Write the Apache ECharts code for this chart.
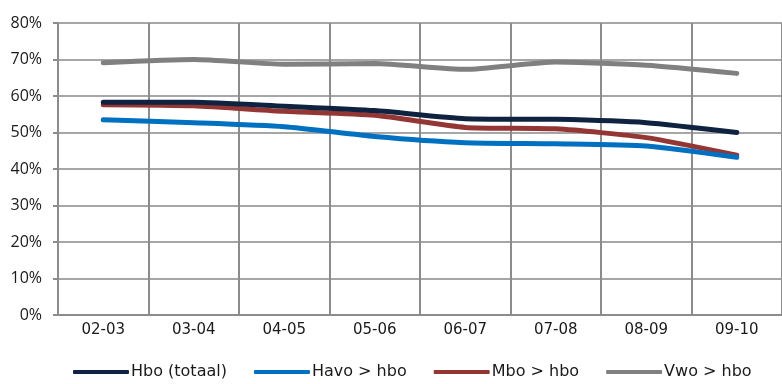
<!DOCTYPE html>
<html><head><meta charset="utf-8">
<script src="https://cdn.jsdelivr.net/npm/echarts@6/dist/echarts.min.js"></script>
<style>html,body{margin:0;padding:0;background:#fff}#c{width:782px;height:384px}</style>
</head><body><div id="c"></div>
<script>
const categories = ['02-03','03-04','04-05','05-06','06-07','07-08','08-09','09-10'];
const hboTotaal = [58.3, 58.3, 57.2, 56.0, 53.8, 53.6, 52.7, 50.0];
const havoHbo = [53.5, 52.7, 51.6, 48.9, 47.2, 46.9, 46.3, 43.2];
const mboHbo = [57.6, 57.3, 55.8, 54.7, 51.4, 51.0, 48.6, 43.8];
const vwoHbo = [69.1, 70.0, 68.7, 68.9, 67.3, 69.3, 68.4, 66.2];
const yTicks = [0, 10, 20, 30, 40, 50, 60, 70, 80];

const names = ['Hbo (totaal)', 'Havo > hbo', 'Mbo > hbo', 'Vwo > hbo'];
const colors = ['#0f2341', '#0070c0', '#943634', '#808080'];
const datas = [hboTotaal, havoHbo, mboHbo, vwoHbo];

const chart = echarts.init(document.getElementById('c'), null, {renderer: 'canvas'});
chart.setOption({
  animation: false,
  backgroundColor: '#fff',
  grid: {left: 58, top: 23, bottom: 69, width: 732, containLabel: false},
  legend: {
    bottom: -1, left: 68,
    itemWidth: 56, itemHeight: 4, itemGap: 27,
    icon: 'roundRect',
    textStyle: {fontFamily: 'DejaVu Sans', fontSize: 16, color: '#1a1a1a', padding: [0,0,0,-3]},
    data: names
  },
  xAxis: {
    type: 'category', data: categories, boundaryGap: true,
    axisLine: {lineStyle: {color: '#8c8c8c', width: 2}},
    axisTick: {show: false},
    axisLabel: {fontFamily: 'DejaVu Sans', fontSize: 15, color: '#1a1a1a', margin: 8, interval: 0},
    splitLine: {show: true, interval: 0, lineStyle: {color: '#8c8c8c', width: 2}}
  },
  yAxis: {
    type: 'value', min: 0, max: 80, interval: 10,
    axisLine: {show: true, lineStyle: {color: '#8c8c8c', width: 2}},
    axisTick: {show: true, length: 5, inside: false, lineStyle: {color: '#8c8c8c', width: 2}},
    axisLabel: {fontFamily: 'Open Sans', fontSize: 16, color: '#1a1a1a', margin: 16, formatter: '{value}%'},
    splitLine: {show: true, lineStyle: {color: '#a6a6a6', width: 2}}
  },
  series: datas.map((d, i) => ({
    name: names[i], type: 'line', data: d, smooth: 0.2,
    symbol: 'none', color: colors[i],
    lineStyle: {width: 5, color: colors[i], cap: 'round'},
    z: 10 - i
  }))
});
</script></body></html>
